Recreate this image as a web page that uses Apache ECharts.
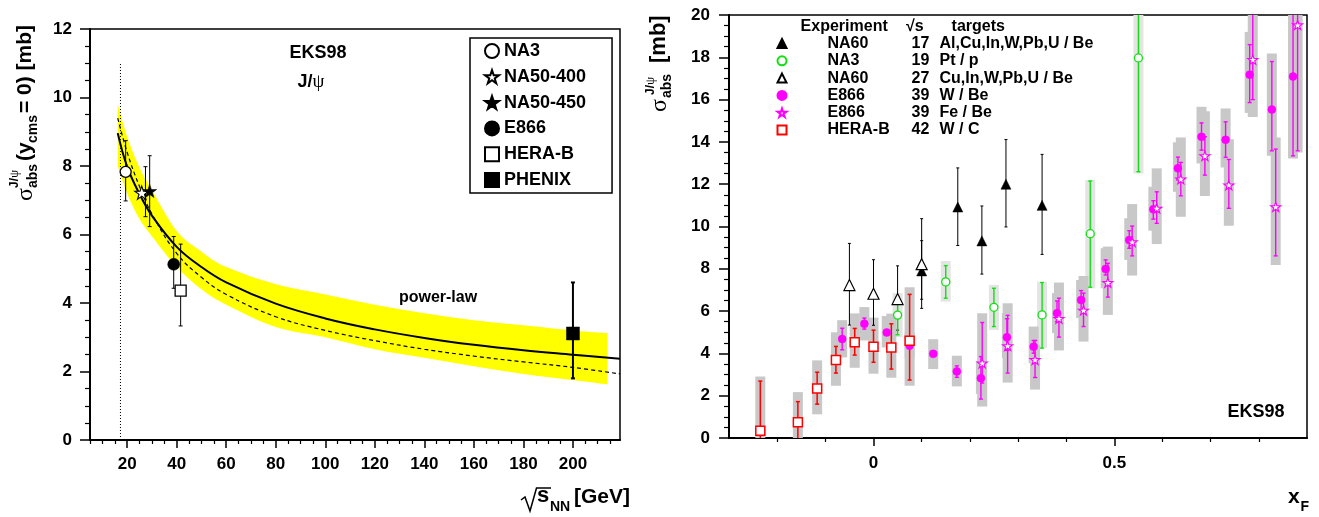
<!DOCTYPE html>
<html><head><meta charset="utf-8">
<script src="https://cdn.jsdelivr.net/npm/echarts@6/dist/echarts.min.js"></script>
<style>html,body{margin:0;padding:0;background:#fff}#c{width:1319px;height:517px}</style>
</head><body><div id="c"></div>
<script>
// ================= LEFT PANEL DATA (sqrt(s_NN) dependence) =================
const curveX  = [16.2, 20, 25, 30, 40, 50, 60, 80, 100, 120, 140, 160, 180, 200, 219];
const solidY  = [8.96, 7.98, 7.18, 6.55, 5.64, 5.05, 4.60, 3.98, 3.55, 3.23, 2.98, 2.78, 2.62, 2.49, 2.37];
const dashedY = [9.40, 8.40, 7.40, 6.60, 5.45, 4.75, 4.25, 3.60, 3.20, 2.90, 2.65, 2.45, 2.28, 2.12, 1.93];
const bandX   = [16.2, 20, 25, 30, 40, 50, 60, 80, 100, 120, 140, 160, 180, 200, 214];
const bandHi  = [9.8, 8.85, 7.95, 7.3, 6.1, 5.5, 5.05, 4.55, 4.25, 3.95, 3.7, 3.5, 3.35, 3.2, 3.12];
const bandLo  = [8.0, 7.2, 6.45, 5.95, 5.05, 4.4, 3.95, 3.3, 3.0, 2.65, 2.4, 2.15, 1.93, 1.75, 1.62];
const vlineX = [17.3, 17.3];
const vlineY = [0, 11];

const leftExp     = ['NA3', 'NA50-400', 'NA50-450', 'E866', 'HERA-B', 'PHENIX'];
const leftX       = [19.4, 27.4, 29.1, 38.8, 41.6, 200];
const leftMarkerX = [19.4, 25.9, 29.1, 38.8, 41.6, 200];
const leftY       = [7.83, 7.22, 7.27, 5.13, 4.36, 3.11];
const leftLo      = [6.98, 6.52, 6.23, 4.43, 3.33, 1.80];
const leftHi      = [8.74, 7.98, 8.30, 5.94, 5.72, 4.60];

const leftXMajor = [20, 40, 60, 80, 100, 120, 140, 160, 180, 200];
const leftXMinor = [5, 10, 15, 25, 30, 35, 45, 50, 55, 65, 70, 75, 85, 90, 95, 105, 110, 115, 125, 130, 135, 145, 150, 155, 165, 170, 175, 185, 190, 195, 205, 210, 215];

// ================= RIGHT PANEL DATA (x_F dependence) =================
const rightXMajor = [0, 0.5];
const rightXMinor = [-0.2, -0.1, 0.1, 0.2, 0.3, 0.4, 0.6, 0.7, 0.8];

// NA60 17 GeV (filled triangles)
const na60aX  = [0.1, 0.175, 0.225, 0.275, 0.35];
const na60aY  = [7.90, 10.92, 9.32, 12.0, 11.0];
const na60aLo = [6.13, 9.10, 7.75, 9.98, 8.68];
const na60aHi = [10.37, 12.77, 10.97, 14.11, 13.41];
// NA3 19 GeV (green open circles)
const na3X    = [0.05, 0.15, 0.25, 0.35, 0.45, 0.55];
const na3Y    = [5.81, 7.38, 6.18, 5.82, 9.66, 17.97];
const na3Lo   = [4.88, 6.61, 5.27, 4.25, 7.13, 12.59];
const na3Hi   = [6.69, 8.15, 7.08, 7.35, 12.15, 23.4];
const na3BLo  = [4.77, 6.45, 5.11, 4.25, 7.08, 12.51];
const na3BHi  = [6.85, 8.37, 7.24, 7.39, 12.2, 23.4];
// NA60 27 GeV (open triangles)
const na60bX  = [-0.05, 0.0, 0.05, 0.1];
const na60bY  = [7.23, 6.82, 6.57, 8.22];
const na60bLo = [5.34, 5.33, 5.10, 6.56];
const na60bHi = [9.20, 8.43, 8.14, 9.33];
// E866 W/Be (magenta filled circles)
const e866wX  = [-0.065, -0.019, 0.0275, 0.075, 0.124, 0.173, 0.223, 0.277, 0.3325, 0.381, 0.431, 0.482, 0.531, 0.581, 0.632, 0.681, 0.731, 0.781, 0.827, 0.871];
const e866wY  = [4.68, 5.40, 4.99, 4.37, 3.98, 3.15, 2.83, 4.76, 4.32, 5.90, 6.52, 7.99, 9.36, 10.81, 12.75, 14.24, 14.10, 17.18, 15.53, 17.09];
const e866wLo = [4.17, 5.15, 4.86, 4.22, 3.86, 2.87, 1.84, 4.14, 4.01, 5.51, 6.06, 7.71, 8.97, 10.35, 12.20, 13.61, 13.27, 15.86, 13.58, 13.34];
const e866wHi = [5.19, 5.67, 5.12, 4.52, 4.10, 3.41, 3.85, 5.64, 4.61, 6.48, 6.97, 8.42, 9.80, 11.22, 13.28, 14.90, 14.95, 18.60, 17.80, 20.85];
const e866wBLo = [3.81, 4.61, 4.28, 3.75, 3.26, 2.44, 2.08, 3.78, 3.54, 4.96, 5.67, 7.08, 8.42, 9.80, 11.64, 12.98, 12.79, 15.37, 13.34, 13.22];
const e866wBHi = [5.57, 6.19, 5.77, 5.00, 4.67, 3.89, 3.62, 5.90, 5.27, 6.85, 7.47, 8.97, 10.39, 11.88, 13.98, 15.66, 15.58, 19.20, 18.18, 21.0];
// E866 Fe/Be (magenta open stars)
const e866fX  = [0.2257, 0.2785, 0.3354, 0.385, 0.436, 0.4865, 0.537, 0.588, 0.638, 0.688, 0.7377, 0.7874, 0.835, 0.8805];
const e866fY  = [3.54, 4.36, 3.70, 5.65, 6.04, 7.35, 9.27, 10.86, 12.24, 13.34, 11.96, 17.89, 10.93, 19.53];
const e866fLo = [2.60, 3.07, 2.86, 4.77, 5.27, 6.66, 8.61, 10.15, 11.45, 12.43, 10.86, 16.0, 8.61, 13.58];
const e866fHi = [5.46, 5.80, 4.61, 6.61, 6.85, 8.26, 10.02, 11.64, 13.03, 14.24, 13.17, 20.6, 13.66, 25.5];
const e866fBLo = [1.49, 2.62, 2.29, 4.14, 4.56, 5.82, 7.68, 9.17, 10.46, 11.44, 10.04, 15.18, 8.18, 13.5];
const e866fBHi = [5.90, 6.37, 4.41, 7.35, 7.66, 9.05, 11.06, 12.75, 14.21, 15.45, 14.12, 20.6, 14.21, 25.5];
// HERA-B 42 GeV (red open squares)
const herabX  = [-0.235, -0.157, -0.117, -0.078, -0.039, 0.0, 0.037, 0.075];
const herabY  = [0.34, 0.74, 2.34, 3.69, 4.53, 4.31, 4.28, 4.60];
const herabLo = [-2.0, -0.25, 1.60, 3.07, 3.92, 3.58, 3.26, 2.74];
const herabHi = [2.69, 1.72, 3.11, 4.33, 5.18, 5.10, 5.40, 6.79];
const herabBLo = [-2.2, -0.7, 1.12, 2.47, 3.32, 3.04, 2.85, 2.47];
const herabBHi = [2.91, 2.17, 3.67, 5.00, 5.89, 5.69, 5.88, 7.13];

// legend text of the right panel
const rSeriesNames = ['NA60 17', 'NA3 19', 'NA60 27', 'E866 W', 'E866 Fe', 'HERA-B 42'];
const rExpNames = ['NA60', 'NA3', 'NA60', 'E866', 'E866', 'HERA-B'];
const rSqrtS    = ['17', '19', '27', '39', '39', '42'];
const rTargets  = ['Al,Cu,In,W,Pb,U / Be', 'Pt / p', 'Cu,In,W,Pb,U / Be', 'W / Be', 'Fe / Be', 'W / C'];

// ================= CHART =================
const FONT = '"Liberation Sans", Arial, Helvetica, sans-serif';
const SERIF = '"Liberation Serif", "DejaVu Serif", serif';
const STAR = 'path://M50,0 L61.8,35.1 L98.1,35.1 L68.8,56.7 L79.4,90.9 L50,69.1 L20.6,90.9 L31.2,56.7 L1.9,35.1 L38.2,35.1 Z';
const GREEN = '#10e010', MAG = '#ff00ff', RED = '#ff0000';

const pts = (xs, ys) => xs.map((x, i) => [x, ys[i]]);

// Catmull-Rom path through pixel points (rendering helper only)
function crPath(p, moveFirst) {
  let d = (moveFirst ? 'M' : 'L') + p[0][0] + ',' + p[0][1];
  for (let i = 0; i < p.length - 1; i++) {
    const p0 = p[Math.max(0, i - 1)], p1 = p[i], p2 = p[i + 1], p3 = p[Math.min(p.length - 1, i + 2)];
    const c1 = [p1[0] + (p2[0] - p0[0]) / 6, p1[1] + (p2[1] - p0[1]) / 6];
    const c2 = [p2[0] - (p3[0] - p1[0]) / 6, p2[1] - (p3[1] - p1[1]) / 6];
    d += 'C' + c1[0] + ',' + c1[1] + ' ' + c2[0] + ',' + c2[1] + ' ' + p2[0] + ',' + p2[1];
  }
  return d;
}

function errSeries(name, xi, yi, xs, los, his, color, lw, cap, z) {
  return {
    type: 'custom', name, xAxisIndex: xi, yAxisIndex: yi, z, silent: true, clip: true,
    data: xs.map((x, i) => [x, los[i], his[i]]),
    encode: { x: 0, y: [1, 2] },
    renderItem(params, api) {
      const x = api.value(0);
      const a = api.coord([x, api.value(1)]);
      const b = api.coord([x, api.value(2)]);
      const st = { stroke: color, lineWidth: lw };
      return { type: 'group', children: [
        { type: 'line', shape: { x1: a[0], y1: a[1], x2: b[0], y2: b[1] }, style: st },
        { type: 'line', shape: { x1: a[0] - cap, y1: a[1], x2: a[0] + cap, y2: a[1] }, style: st },
        { type: 'line', shape: { x1: b[0] - cap, y1: b[1], x2: b[0] + cap, y2: b[1] }, style: st }
      ] };
    }
  };
}
function boxSeries(name, xs, los, his, color, halfW, z) {
  return {
    type: 'custom', name, xAxisIndex: 2, yAxisIndex: 1, z, silent: true, clip: true,
    data: xs.map((x, i) => [x, los[i], his[i]]),
    encode: { x: 0, y: [1, 2] },
    renderItem(params, api) {
      const x = api.value(0);
      const a = api.coord([x, api.value(1)]);
      const b = api.coord([x, api.value(2)]);
      return { type: 'rect', shape: { x: a[0] - halfW, y: b[1], width: 2 * halfW, height: a[1] - b[1] }, style: { fill: color } };
    }
  };
}
function scat(name, xi, yi, data, symbol, size, fill, border, bw, z) {
  return { type: 'scatter', name, xAxisIndex: xi, yAxisIndex: yi, z: z || 6, silent: true,
    symbol, symbolSize: size, symbolKeepAspect: true, data,
    itemStyle: { color: fill, borderColor: border, borderWidth: bw, opacity: 1 } };
}

const tickLbl = { color: '#000', fontSize: 17, fontWeight: 'bold', fontFamily: FONT };
const blackLine = { color: '#000', width: 2 };

const xAxis = [
  { gridIndex: 0, type: 'value', min: 5, max: 219, position: 'bottom',
    axisLine: { show: true, onZero: false, lineStyle: blackLine },
    axisTick: { show: true, customValues: leftXMajor, length: 8, lineStyle: { color: '#000', width: 1.5 } },
    axisLabel: Object.assign({ show: true, customValues: leftXMajor, margin: 16 }, tickLbl),
    splitLine: { show: false } },
  { gridIndex: 0, type: 'value', min: 5, max: 219, position: 'bottom',
    axisLine: { show: false }, axisLabel: { show: false }, splitLine: { show: false },
    axisTick: { show: true, customValues: leftXMinor, length: 4, lineStyle: { color: '#000', width: 1.2 } } },
  { gridIndex: 1, type: 'value', min: -0.3, max: 0.9, position: 'bottom',
    axisLine: { show: true, onZero: false, lineStyle: blackLine },
    axisTick: { show: true, customValues: rightXMajor, length: 8, lineStyle: { color: '#000', width: 1.5 } },
    axisLabel: Object.assign({ show: true, customValues: rightXMajor, margin: 17, formatter: v => String(v) }, tickLbl),
    splitLine: { show: false } },
  { gridIndex: 1, type: 'value', min: -0.3, max: 0.9, position: 'bottom',
    axisLine: { show: false }, axisLabel: { show: false }, splitLine: { show: false },
    axisTick: { show: true, customValues: rightXMinor, length: 4, lineStyle: { color: '#000', width: 1.2 } } }
];
const yAxis = [
  { gridIndex: 0, type: 'value', min: 0, max: 12, interval: 2,
    axisLine: { show: true, onZero: false, lineStyle: blackLine },
    axisTick: { show: true, length: 10, lineStyle: { color: '#000', width: 1.5 } },
    minorTick: { show: true, splitNumber: 4, length: 5, lineStyle: { color: '#000', width: 1.2 } },
    axisLabel: Object.assign({ margin: 18 }, tickLbl),
    splitLine: { show: false }, minorSplitLine: { show: false } },
  { gridIndex: 1, type: 'value', min: 0, max: 20, interval: 2,
    axisLine: { show: true, onZero: false, lineStyle: blackLine },
    axisTick: { show: true, length: 10, lineStyle: { color: '#000', width: 1.5 } },
    minorTick: { show: true, splitNumber: 4, length: 5, lineStyle: { color: '#000', width: 1.2 } },
    axisLabel: Object.assign({ margin: 19 }, tickLbl),
    splitLine: { show: false }, minorSplitLine: { show: false } }
];

const series = [
  // ---- left: yellow uncertainty band, drawn as one closed path through the axis scales
  { type: 'custom', name: 'band', xAxisIndex: 0, yAxisIndex: 0, z: 1, silent: true, clip: true,
    data: bandX.map((x, i) => [x, bandLo[i], bandHi[i]]),
    encode: { x: 0, y: [1, 2] },
    renderItem(params, api) {
      if (params.dataIndex !== 0) return null;
      const up = bandX.map((x, i) => api.coord([x, bandHi[i]]));
      const lo = bandX.map((x, i) => api.coord([x, bandLo[i]])).reverse();
      const d = crPath(up, true) + crPath(lo, false) + 'Z';
      return { type: 'path', shape: { pathData: d }, style: { fill: '#ffff00', stroke: null } };
    } },
  { type: 'line', name: 'dashed', xAxisIndex: 0, yAxisIndex: 0, smooth: 0.4, showSymbol: false, silent: true, z: 2,
    data: pts(curveX, dashedY), lineStyle: { color: '#000', width: 1.2, type: [4, 3] } },
  { type: 'line', name: 'power-law', xAxisIndex: 0, yAxisIndex: 0, smooth: 0.4, showSymbol: false, silent: true, z: 2,
    data: pts(curveX, solidY), lineStyle: { color: '#000', width: 2 } },
  { type: 'line', name: 'vline', xAxisIndex: 0, yAxisIndex: 0, showSymbol: false, silent: true, z: 2,
    data: pts(vlineX, vlineY), lineStyle: { color: '#000', width: 1, type: [1, 2] } },
  errSeries('leftErr', 0, 0, leftX.slice(0, 5), leftLo.slice(0, 5), leftHi.slice(0, 5), '#000', 1, 2, 4),
  errSeries('phenixErr', 0, 0, leftX.slice(5), leftLo.slice(5), leftHi.slice(5), '#000', 2, 2, 4),
  scat('NA3', 0, 0, [[leftMarkerX[0], leftY[0]]], 'circle', 11, '#fff', '#000', 1.3),
  scat('NA50-400', 0, 0, [[leftMarkerX[1], leftY[1]]], STAR, 14, '#fff', '#000', 1.1),
  scat('NA50-450', 0, 0, [[leftMarkerX[2], leftY[2]]], STAR, 14, '#000', '#000', 0.5),
  scat('E866', 0, 0, [[leftMarkerX[3], leftY[3]]], 'circle', 12, '#000', '#000', 0.5),
  scat('HERA-B', 0, 0, [[leftMarkerX[4], leftY[4]]], 'rect', 11, '#fff', '#000', 1.3),
  scat('PHENIX', 0, 0, [[leftMarkerX[5], leftY[5]]], 'rect', 13, '#000', '#000', 0.5),

  // ---- right: systematic boxes
  boxSeries('na3Box', na3X, na3BLo, na3BHi, '#e4e4e4', 5, 1),
  boxSeries('herabBox', herabX, herabBLo, herabBHi, '#c8c8c8', 5, 1),
  boxSeries('e866wBox', e866wX, e866wBLo, e866wBHi, '#c8c8c8', 5, 1),
  boxSeries('e866fBox', e866fX, e866fBLo, e866fBHi, '#c8c8c8', 5, 1),
  // error bars
  errSeries('na60aErr', 2, 1, na60aX, na60aLo, na60aHi, '#000', 1, 1.5, 3),
  errSeries('na60bErr', 2, 1, na60bX, na60bLo, na60bHi, '#000', 1, 1.5, 3),
  errSeries('na3Err', 2, 1, na3X, na3Lo, na3Hi, GREEN, 1.4, 2, 3),
  errSeries('herabErr', 2, 1, herabX, herabLo, herabHi, RED, 1.5, 2, 3),
  errSeries('e866wErr', 2, 1, e866wX, e866wLo, e866wHi, MAG, 1.4, 2, 3),
  errSeries('e866fErr', 2, 1, e866fX, e866fLo, e866fHi, MAG, 1.4, 2, 3),
  // markers
  scat('NA60 17', 2, 1, pts(na60aX, na60aY), 'triangle', 10, '#000', '#000', 0.5),
  scat('NA3 19', 2, 1, pts(na3X, na3Y), 'circle', 8, '#fff', GREEN, 1.3),
  scat('NA60 27', 2, 1, pts(na60bX, na60bY), 'triangle', 11, '#fff', '#000', 1.2),
  scat('E866 W', 2, 1, pts(e866wX, e866wY), 'circle', 8, MAG, MAG, 0.5),
  scat('E866 Fe', 2, 1, pts(e866fX, e866fY), STAR, 10, '#fff', MAG, 1.1),
  scat('HERA-B 42', 2, 1, pts(herabX, herabY), 'rect', 9, '#fff', RED, 1.5)
];

// ---- free text (titles, annotations)
function txt(x, y, text, size, opts) {
  return Object.assign({ type: 'text', x, y, silent: true,
    style: Object.assign({ text, fill: '#000', fontSize: size, fontWeight: 'bold', fontFamily: FONT,
      align: 'left', verticalAlign: 'middle' }, (opts && opts.style) || {}) }, opts && opts.el || {});
}
const graphic = [
  // left panel annotations
  txt(318, 53, 'EKS98', 18, { style: { align: 'center' } }),
  { type: 'text', x: 311, y: 82, silent: true, style: { text: '{j|J/}{p|ψ}', align: 'center', verticalAlign: 'middle',
    rich: { j: { fontSize: 18, fontWeight: 'bold', fontFamily: FONT }, p: { fontSize: 19, fontFamily: SERIF } } } },
  txt(438, 298, 'power-law', 16, { style: { align: 'center' } }),
  // left y title (rotated)
  { type: 'group', x: 25, y: 201, rotation: Math.PI / 2, silent: true, children: [
    txt(0, 1, 'σ', 24, { style: { fontFamily: SERIF, fontWeight: 'normal' } }),
    txt(13, 8, 'abs', 14),
    { type: 'text', x: 13, y: -10, style: { text: '{j|J/}{p|ψ}', verticalAlign: 'middle',
      rich: { j: { fontSize: 12, fontWeight: 'bold', fontFamily: FONT }, p: { fontSize: 13, fontFamily: SERIF } } } },
    txt(40, 0, '(y', 21),
    txt(58, 8, 'cms', 14),
    txt(88, 0, '= 0) [mb]', 21)
  ] },
  // left x title
  { type: 'polyline', silent: true, shape: { points: [[521, 500], [525, 497], [530, 511], [536.5, 488], [551, 488]] },
    style: { stroke: '#000', lineWidth: 1.5, fill: null } },
  txt(537, 496, 's', 22),
  txt(550, 507, 'NN', 14),
  txt(574, 497.5, '[GeV]', 21),

  // right panel annotations
  txt(1256, 412, 'EKS98', 18, { style: { align: 'center' } }),
  txt(800.6, 26.3, 'Experiment', 16),
  txt(906, 26.3, '√s', 16),
  txt(951.6, 26.3, 'targets', 16),
  // right y title (rotated)
  { type: 'group', x: 659, y: 112, rotation: Math.PI / 2, silent: true, children: [
    txt(0, 1, 'σ', 24, { style: { fontFamily: SERIF, fontWeight: 'normal' } }),
    txt(14, 8, 'abs', 14),
    { type: 'text', x: 17, y: -8, style: { text: '{j|J/}{p|ψ}', verticalAlign: 'middle',
      rich: { j: { fontSize: 12, fontWeight: 'bold', fontFamily: FONT }, p: { fontSize: 13, fontFamily: SERIF } } } },
    txt(49, 0, '[mb]', 22)
  ] },
  // right x title
  txt(1288, 497.5, 'x', 21),
  txt(1300.5, 507, 'F', 14)
];

const option = {
  animation: false,
  backgroundColor: '#fff',
  grid: [
    { left: 90, top: 29, width: 530, height: 411, show: true, borderColor: '#000', borderWidth: 1.5, backgroundColor: 'transparent' },
    { left: 729, top: 15, width: 578, height: 423, show: true, borderColor: '#000', borderWidth: 1.5, backgroundColor: 'transparent' }
  ],
  xAxis, yAxis, series, graphic,
  legend: [
    { data: leftExp, orient: 'vertical', left: 470, top: 38, selectedMode: false,
      itemWidth: 14, itemHeight: 14, itemGap: 5.8, padding: [3, 26, 3, 14],
      borderColor: '#000', borderWidth: 1.5, backgroundColor: '#fff',
      textStyle: { fontSize: 18, fontWeight: 'bold', fontFamily: FONT, color: '#000', lineHeight: 20 } },
    { data: rSeriesNames, orient: 'vertical', left: 776.5, top: 35, selectedMode: false,
      itemWidth: 9, itemHeight: 9, itemGap: 0.3, padding: 0,
      formatter: name => {
        const i = rSeriesNames.indexOf(name);
        return '{g| }{a|' + rExpNames[i] + '}{b|' + rSqrtS[i] + '}{c|' + rTargets[i] + '}';
      },
      textStyle: { fontSize: 16, fontWeight: 'bold', fontFamily: FONT, color: '#000', lineHeight: 17,
        rich: {
          g: { width: 36, fontSize: 16, lineHeight: 17 },
          a: { width: 84, fontSize: 16, fontWeight: 'bold', fontFamily: FONT, lineHeight: 17 },
          b: { width: 28, fontSize: 16, fontWeight: 'bold', fontFamily: FONT, lineHeight: 17 },
          c: { fontSize: 16, fontWeight: 'bold', fontFamily: FONT, lineHeight: 17 }
        } } }
  ]
};

const chart = echarts.init(document.getElementById('c'), null, { renderer: 'canvas', width: 1319, height: 517 });
chart.setOption(option);
</script>
</body></html>
